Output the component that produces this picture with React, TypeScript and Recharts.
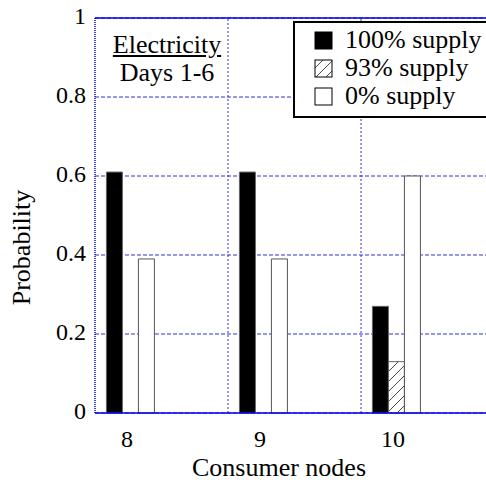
import { BarChart, Bar, XAxis, YAxis, CartesianGrid, ReferenceLine, Legend } from "recharts";

// Probabilidad de suministro por nodo consumidor (electricidad, días 1-6)
const categories = [8, 9, 10];
const fullSupply = [0.61, 0.61, 0.27];
const partialSupply = [0, 0, 0.13];
const noSupply = [0.39, 0.39, 0.6];
const seriesNames = ["100% supply", "93% supply", "0% supply"];
const yTicks = [0, 0.2, 0.4, 0.6, 0.8, 1];
const xDomain = [7.73, 10.73];
const xGridValues = [8.73, 9.73];

const data = categories.map((node, i) => ({
  node,
  full: fullSupply[i],
  partial: partialSupply[i],
  none: noSupply[i],
}));

const FONT = "'Times New Roman', Times, 'Liberation Serif', Tinos, 'DejaVu Serif', serif";
const AXIS_BLUE = "#0000ee";
const GRID_BLUE = "#3030d8";

function XTick({ x, y, payload }: any) {
  return (
    <text x={x - 4} y={y + 26} textAnchor="middle" fontSize={24} style={{ fontFamily: FONT }} fill="#000">
      {payload.value}
    </text>
  );
}

function YTick({ x, y, payload }: any) {
  return (
    <text x={x - 1} y={y + 6} textAnchor="end" fontSize={24} style={{ fontFamily: FONT }} fill="#000">
      {payload.value}
    </text>
  );
}

function Swatch({ fill }: { fill: string }) {
  return (
    <svg width={19} height={19} style={{ display: "block" }}>
      <rect x={1} y={1} width={17} height={17} fill={fill} stroke="#000" strokeWidth={1} />
    </svg>
  );
}

function LegendBox({ payload }: any) {
  const items = [...(payload || [])].sort(
    (a: any, b: any) => seriesNames.indexOf(a.value) - seriesNames.indexOf(b.value)
  );
  return (
    <div
      style={{
        border: "2px solid #000",
        background: "#fff",
        boxSizing: "border-box",
        width: 210,
        height: 97,
        padding: "3px 0 0 19px",
        fontFamily: FONT,
        fontSize: 26,
      }}
    >
      {items.map((p: any) => (
        <div key={p.value} style={{ display: "flex", alignItems: "center", height: 28 }}>
          <Swatch fill={p.payload?.fill ?? p.color} />
          <span style={{ marginLeft: 12, lineHeight: "28px", whiteSpace: "nowrap" }}>{p.value}</span>
        </div>
      ))}
    </div>
  );
}

export default function App() {
  return (
    <div
      style={{
        position: "fixed",
        left: 0,
        top: 0,
        width: 486,
        height: 483,
        overflow: "hidden",
        background: "#fff",
        fontFamily: FONT,
      }}
    >
      <svg width={0} height={0} style={{ position: "absolute" }}>
        <defs>
          <pattern id="hatch" patternUnits="userSpaceOnUse" width={10} height={10}>
            <path d="M0,10 L10,0 M-2,2 L2,-2 M8,12 L12,8" stroke="#333" strokeWidth={0.9} />
          </pattern>
        </defs>
      </svg>
      <BarChart
        width={500}
        height={483}
        data={data}
        margin={{ top: 18, right: 6, left: 35, bottom: 0 }}
        barGap={0}
      >
        <CartesianGrid vertical={false} stroke={GRID_BLUE} strokeDasharray="4 2" />
        {xGridValues.map((v) => (
          <ReferenceLine key={v} x={v} stroke={GRID_BLUE} strokeDasharray="2 2" />
        ))}
        <ReferenceLine y={1} stroke={AXIS_BLUE} strokeWidth={1.5} />
        <XAxis
          dataKey="node"
          type="number"
          domain={xDomain}
          ticks={categories}
          allowDataOverflow
          height={70}
          tickLine={false}
          axisLine={{ stroke: AXIS_BLUE, strokeWidth: 1.5 }}
          tick={<XTick />}
          label={(props: any) => {
            const vb = props.viewBox;
            return (
              <text x={vb.x + 184} y={vb.y + 63} textAnchor="middle" fontSize={26} style={{ fontFamily: FONT }} fill="#000">
                Consumer nodes
              </text>
            );
          }}
        />
        <YAxis
          domain={[0, 1]}
          ticks={yTicks}
          width={60}
          tickLine={false}
          axisLine={{ stroke: AXIS_BLUE, strokeWidth: 1.5, strokeDasharray: "1 1" }}
          tick={<YTick />}
          label={(props: any) => {
            const vb = props.viewBox;
            const cx = vb.x - 14;
            const cy = vb.y + vb.height / 2 + 32;
            return (
              <text
                x={cx}
                y={cy}
                textAnchor="middle"
                dominantBaseline="central"
                transform={`rotate(-90, ${cx}, ${cy})`}
                fontSize={26}
                style={{ fontFamily: FONT }}
                fill="#000"
              >
                Probability
              </text>
            );
          }}
        />
        <Legend
          layout="vertical"
          align="center"
          verticalAlign="middle"
          wrapperStyle={{ left: 293, top: 21, width: 210, height: 97 }}
          content={<LegendBox />}
        />
        <Bar dataKey="full" name={seriesNames[0]} fill="#000" stroke="#666" strokeWidth={1} barSize={16} isAnimationActive={false} />
        <Bar dataKey="partial" name={seriesNames[1]} fill="url(#hatch)" stroke="#666" strokeWidth={1} barSize={16} isAnimationActive={false} />
        <Bar dataKey="none" name={seriesNames[2]} fill="#fff" stroke="#555" strokeWidth={1} barSize={16} isAnimationActive={false} />
      </BarChart>
      <div
        style={{
          position: "absolute",
          left: 87,
          top: 31,
          width: 160,
          textAlign: "center",
          fontFamily: FONT,
          fontSize: 26,
          lineHeight: "28px",
          color: "#000",
        }}
      >
        <div style={{ textDecoration: "underline" }}>Electricity</div>
        <div>Days 1-6</div>
      </div>
    </div>
  );
}
